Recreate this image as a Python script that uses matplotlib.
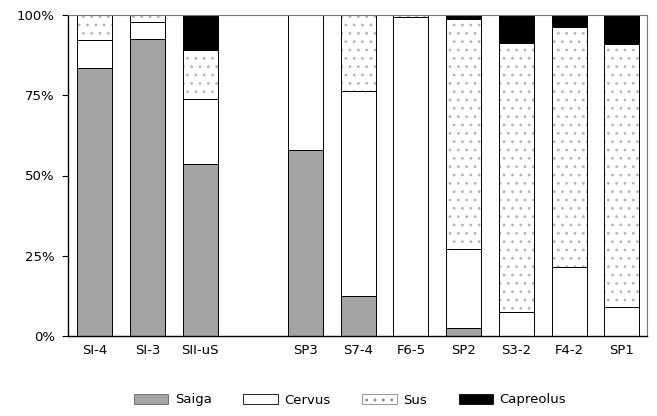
import numpy as np
import matplotlib
matplotlib.use("Agg")
import matplotlib.pyplot as plt
from matplotlib.patches import Patch

plt.rcParams['font.family'] = ['DejaVu Sans']
plt.rcParams['font.size'] = 9.5
plt.rcParams['hatch.linewidth'] = 0.8

# sites and percentages per taxon
sites = ["SI-4", "SI-3", "SII-uS", "SP3", "S7-4", "F6-5", "SP2", "S3-2", "F4-2", "SP1"]
saiga = [83.6, 92.6, 53.6, 57.8, 12.5, 0.0, 2.4, 0.0, 0.0, 0.0]
cervus = [8.7, 5.2, 20.2, 42.2, 63.9, 99.5, 24.7, 7.6, 21.6, 8.9]
sus = [7.7, 2.2, 15.4, 0.0, 23.6, 0.5, 71.7, 83.8, 74.6, 82.0]
capreolus = [0.0, 0.0, 10.8, 0.0, 0.0, 0.0, 1.2, 8.6, 3.8, 9.1]
yticks = [0, 25, 50, 75, 100]

# empty slot after the third group
idx = np.arange(len(sites))
xpos = idx + (idx >= 3)
w = 0.665

fig = plt.figure(figsize=(6.57, 4.16), dpi=100)
ax = fig.add_axes([68/657, 1-336/416, (647-68)/657, (336-15)/416])

saiga_col = '#a4a4a4'
b0 = np.zeros(len(sites))
ax.bar(xpos, saiga, w, bottom=b0, color=saiga_col, edgecolor='black', linewidth=0.7)
b1 = b0 + np.array(saiga)
ax.bar(xpos, cervus, w, bottom=b1, color='white', edgecolor='black', linewidth=0.7)
b2 = b1 + np.array(cervus)
# dotted fill for Sus, then outline on top
ax.bar(xpos, sus, w, bottom=b2, color='white', edgecolor='#b5b5b5', hatch='..', linewidth=0)
ax.bar(xpos, sus, w, bottom=b2, fill=False, edgecolor='black', linewidth=0.7)
b3 = b2 + np.array(sus)
ax.bar(xpos, capreolus, w, bottom=b3, color='black', edgecolor='black', linewidth=0.7)

ax.set_xlim(-0.51, 10.48)
ax.set_ylim(0, 100)
ax.set_yticks(yticks)
ax.set_yticklabels([f"{v}%" for v in yticks])
ax.set_xticks(xpos)
ax.set_xticklabels(sites)
ax.tick_params(axis='x', length=0, pad=6)
ax.tick_params(axis='y', length=4, width=0.8, pad=5.5)

for s in ['left', 'bottom']:
    ax.spines[s].set_linewidth(1.0)
for s in ['top', 'right']:
    ax.spines[s].set_color('#777777')
    ax.spines[s].set_linewidth(0.8)

handles = [
    Patch(facecolor=saiga_col, edgecolor='#666666', linewidth=0.6, label='Saiga'),
    Patch(facecolor='white', edgecolor='black', linewidth=0.6, label='Cervus'),
    Patch(facecolor='white', edgecolor='#888888', hatch='..', linewidth=0.6, label='Sus'),
    Patch(facecolor='black', edgecolor='black', linewidth=0.6, label='Capreolus'),
]
fig.legend(handles=handles, loc='center', bbox_to_anchor=(350/657, 1-400/416), ncol=4,
           frameon=False, handlelength=2.6, handleheight=0.8, handletextpad=0.5,
           columnspacing=2.4, fontsize=9.5)

fig.savefig("out.png", dpi=100)
